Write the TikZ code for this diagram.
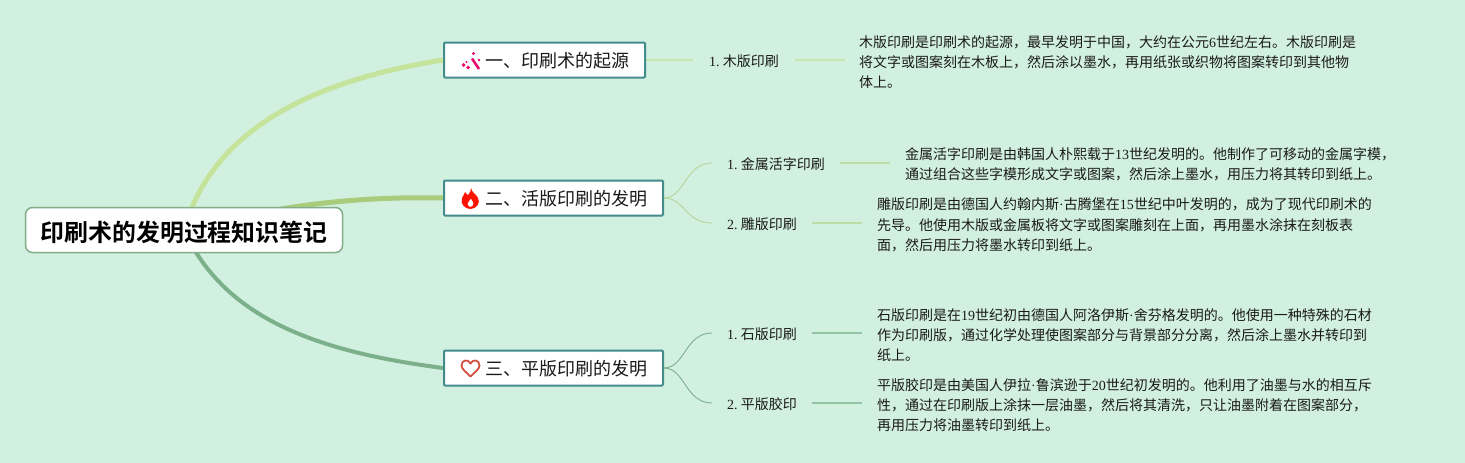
\documentclass[tikz,border=0pt]{standalone}
\usepackage{fontspec}
\setmainfont{Liberation Serif}
\newfontfamily\cjk[BoldFont={Noto Sans CJK SC Bold}]{Noto Sans CJK SC}
\usetikzlibrary{backgrounds}
\newcommand\lat[1]{{\rmfamily #1}}
\definecolor{bgc}{HTML}{D2F0E0}
\definecolor{boxc}{HTML}{448C8C}
\definecolor{rootc}{HTML}{82AD88}
\definecolor{ca}{HTML}{C5E39A}
\definecolor{cb}{HTML}{A9CB7C}
\definecolor{cc}{HTML}{7BB08A}
\definecolor{subca}{HTML}{C5E6B0}
\definecolor{subcb}{HTML}{BCDDA6}
\definecolor{subcc}{HTML}{92C4A4}
\definecolor{txt}{HTML}{1A1A1A}
\definecolor{heartc}{HTML}{D4503F}
\tikzset{
  rootbox/.style={draw=rootc,line width=1.5pt,fill=white,rounded corners=7pt,minimum width=317pt,minimum height=45pt,inner sep=0pt,text=black,text height=22pt,text depth=0pt,font=\fontsize{23.9}{28}\selectfont\cjk\bfseries},
  branchbox/.style={draw=boxc,line width=2pt,fill=white,rounded corners=1pt,minimum height=35pt,inner sep=0pt,text=txt,text height=15pt,text depth=0pt,anchor=west,font=\fontsize{18}{22}\selectfont\cjk},
  subnode/.style={inner sep=0pt,minimum height=20pt,anchor=west,text=txt,text height=13.5pt,text depth=0pt,font=\fontsize{14}{18}\selectfont\cjk},
  descnode/.style={inner sep=0pt,anchor=west,text=txt,align=left,font=\fontsize{14}{20.3}\selectfont\cjk},
  mainlink/.style={line width=#1,line cap=round},
  sublink/.style={line width=1.5pt},
  curvelink/.style={line width=.9pt}
}
\begin{document}
\begin{tikzpicture}[x=1pt,y=-1pt]
\useasboundingbox (0,0) rectangle (1465,463);

% nodes
\node[rootbox] (root) at (184,230) {印刷术的发明过程知识笔记};

\node[branchbox,text width=201pt] (b1) at (443,60) {\hspace*{41.5pt}一、印刷术的起源};
\node[branchbox,text width=219pt] (b2) at (443,198) {\hspace*{41.5pt}二、活版印刷的发明};
\node[branchbox,text width=219pt] (b3) at (443,368) {\hspace*{41.5pt}三、平版印刷的发明};

\node[subnode,text width=102pt] (s1) at (693,60) {\hspace*{16pt}\lat{1.}\hspace{3.2pt}木版印刷};
\node[subnode,text width=128pt] (s21) at (712,163) {\hspace*{15pt}\lat{1.}\hspace{3.2pt}金属活字印刷};
\node[subnode,text width=100pt] (s22) at (712,223) {\hspace*{15pt}\lat{2.}\hspace{3.2pt}雕版印刷};
\node[subnode,text width=100pt] (s31) at (712,333) {\hspace*{15pt}\lat{1.}\hspace{3.2pt}石版印刷};
\node[subnode,text width=100pt] (s32) at (712,403) {\hspace*{15pt}\lat{2.}\hspace{3.2pt}平版胶印};

\coordinate (e1) at (845,60);
\coordinate (e21) at (890,163);
\coordinate (e22) at (862,223);
\coordinate (e31) at (862,333);
\coordinate (e32) at (862,403);

\node[descnode] (t1) at (859,62) {木版印刷是印刷术的起源，最早发明于中国，大约在公元\lat{6}世纪左右。木版印刷是\\将文字或图案刻在木板上，然后涂以墨水，再用纸张或织物将图案转印到其他物\\体上。};
\node[descnode] (t21) at (905,164.5) {金属活字印刷是由韩国人朴熙载于\lat{13}世纪发明的。他制作了可移动的金属字模，\\通过组合这些字模形成文字或图案，然后涂上墨水，用压力将其转印到纸上。};
\node[descnode] (t22) at (877,225) {雕版印刷是由德国人约翰内斯\lat{·}古腾堡在\lat{15}世纪中叶发明的，成为了现代印刷术的\\先导。他使用木版或金属板将文字或图案雕刻在上面，再用墨水涂抹在刻板表\\面，然后用压力将墨水转印到纸上。};
\node[descnode] (t31) at (877,335) {石版印刷是在\lat{19}世纪初由德国人阿洛伊斯\lat{·}舍芬格发明的。他使用一种特殊的石材\\作为印刷版，通过化学处理使图案部分与背景部分分离，然后涂上墨水并转印到\\纸上。};
\node[descnode] (t32) at (877,405) {平版胶印是由美国人伊拉\lat{·}鲁滨逊于\lat{20}世纪初发明的。他利用了油墨与水的相互斥\\性，通过在印刷版上涂抹一层油墨，然后将其清洗，只让油墨附着在图案部分，\\再用压力将油墨转印到纸上。};

% connectors
\begin{scope}[on background layer]
\fill[bgc] (0,0) rectangle (1465,463);
\draw[ca,mainlink=5pt] (root.center) .. controls (215,120) and (330,78) .. (b1.west);
\draw[cb,mainlink=5pt] (root.center) .. controls (270,207) and (350,196) .. (b2.west);
\draw[cc,mainlink=4pt] (root.center) .. controls (225,320) and (320,352) .. (b3.west);

\draw[subca,sublink] (b1.east) -- (s1.west);
\draw[subca,sublink] (s1.east) -- (e1);
\draw[cb!70!bgc,curvelink] (b2.east) .. controls (685,198) and (685,163) .. (s21.west);
\draw[cb!70!bgc,curvelink] (b2.east) .. controls (685,198) and (685,223) .. (s22.west);
\draw[subcb,sublink] (s21.east) -- (e21);
\draw[subcb,sublink] (s22.east) -- (e22);
\draw[cc,curvelink] (b3.east) .. controls (685,368) and (685,333) .. (s31.west);
\draw[cc,curvelink] (b3.east) .. controls (685,368) and (685,403) .. (s32.west);
\draw[subcc,sublink] (s31.east) -- (e31);
\draw[subcc,sublink] (s32.east) -- (e32);
\end{scope}

% icon: wand
\draw[line width=2.6pt,color=magenta!70!red] (472,58.5) -- (479,69);
\foreach \x/\y/\r in {463.5/65/2,468/67.5/2,473.5/53.5/1.6,479/60/1.3,466.5/62/1.2}
  \fill[magenta!70!red] (\x,\y-\r) -- (\x+\r,\y) -- (\x,\y+\r) -- (\x-\r,\y) -- cycle;

% icon: flame
\fill[red!85!orange,even odd rule] (471,188) .. controls (472,193) and (476,194) .. (478,198)
  .. controls (481,203) and (476,209) .. (470.5,209)
  .. controls (465,209) and (460,204) .. (462,198)
  .. controls (463,195) and (465,194) .. (465,192)
  .. controls (467,194) and (467,195) .. (468,195)
  .. controls (470,193) and (471,191) .. (471,188) -- cycle
  (470.5,207) .. controls (472.5,207) and (474,205) .. (473.5,203)
  .. controls (473,201) and (471.5,200.5) .. (471,198.5)
  .. controls (470,201) and (467,202) .. (467.5,204)
  .. controls (468,206) and (469.5,207) .. (470.5,207) -- cycle;

% icon: heart
\draw[color=heartc,line width=1.8pt,line join=round] (470.5,376.5)
  .. controls (466,372) and (461.5,369) .. (461.5,365.5)
  .. controls (461.5,360) and (468,358.5) .. (470.5,363.5)
  .. controls (473,358.5) and (479.5,360) .. (479.5,365.5)
  .. controls (479.5,369) and (475,372) .. (470.5,376.5) -- cycle;
\end{tikzpicture}
\end{document}
